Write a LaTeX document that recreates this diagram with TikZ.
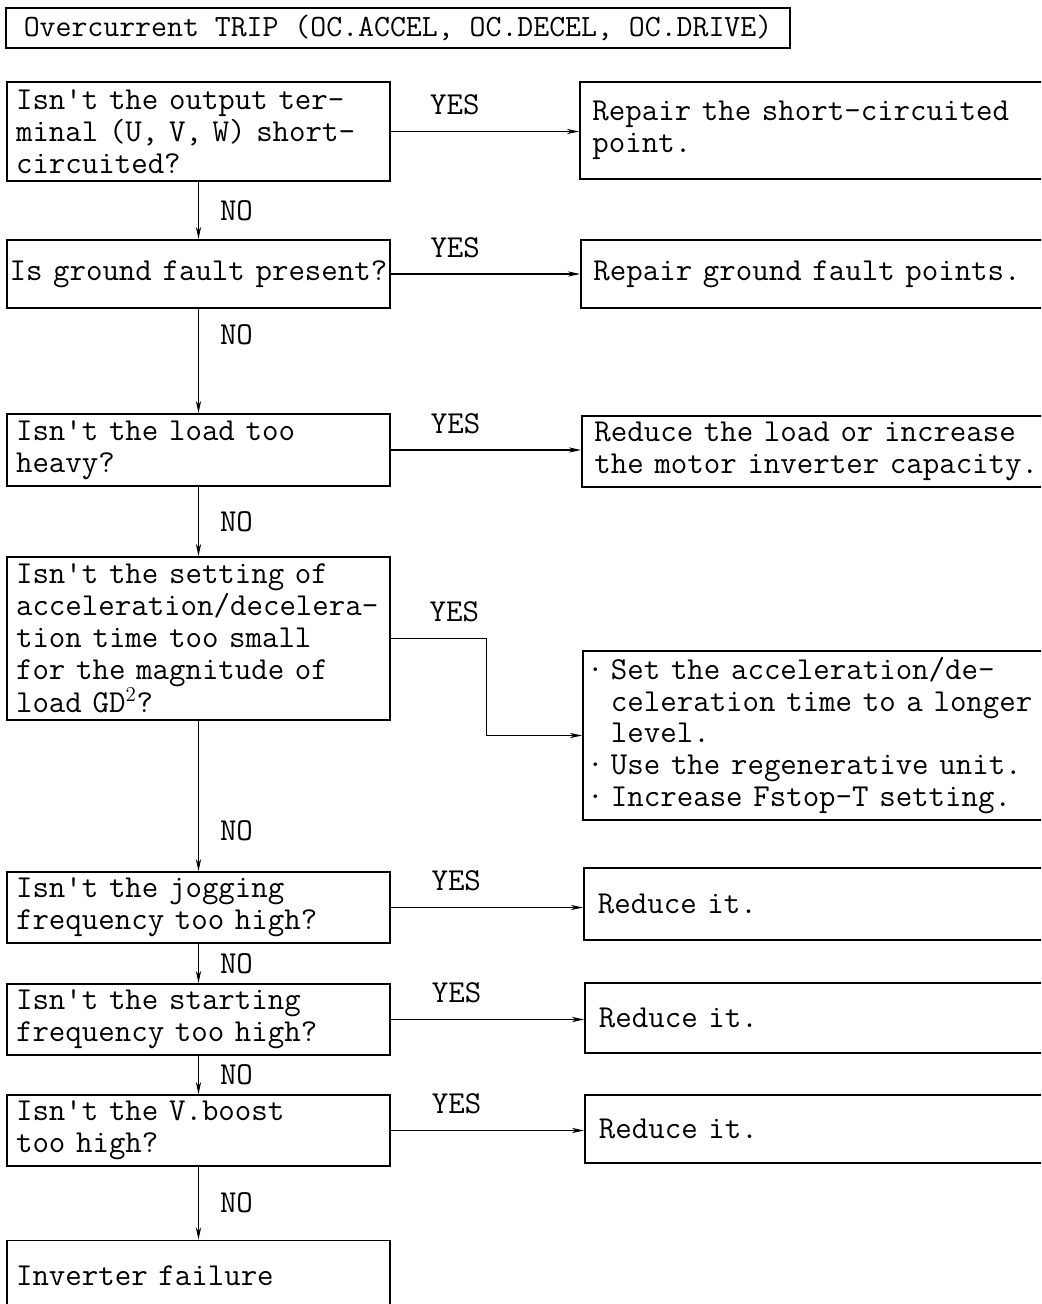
\documentclass[tikz,border=0pt]{standalone}
\usepackage{fontspec}
\usepackage{tikz}
\usetikzlibrary{arrows.meta, positioning, calc}

\newcommand{\itm}{\leavevmode\llap{·\hspace{0.15cm}}}

\begin{document}
\begin{tikzpicture}[x=0.02cm, y=-0.02cm, >={Stealth[length=7pt,width=3pt]},
    every node/.style={font=\ttfamily\fontsize{18.2}{18.14}\selectfont},
    qbox/.style={draw, line width=1.1pt, minimum width=7.66cm, text width=7.30cm, inner xsep=0.18cm, align=left},
    abox/.style={draw, line width=1.1pt, anchor=west, minimum width=12cm, text width=11.5cm, inner xsep=0.25cm, align=left},
    link/.style={->, line width=0.6pt},
    lbl/.style={inner sep=0pt}]
    \clip (0,0) rectangle (1041,1304);

    \node[draw, line width=1pt, minimum width=15.68cm, minimum height=0.8cm, inner xsep=0.2cm,
        font=\ttfamily\fontsize{17.6}{18.14}\selectfont] (title) at (398,28) {Overcurrent TRIP (OC.ACCEL, OC.DECEL, OC.DRIVE)};

    % questions
    \node[qbox, minimum height=1.98cm] (q1) at (198.5,131.5) {Isn't the output ter-\\minal (U, V, W) short-\\circuited?};
    \node[qbox, minimum height=1.36cm, text width=7.56cm, inner xsep=0.05cm] (q2) at (198.5,274) {\mbox{Is ground fault present?}};
    \node[qbox, minimum height=1.44cm] (q3) at (198.5,450) {Isn't the load too\\heavy?};
    \node[qbox, minimum height=3.26cm] (q4) at (198.5,638.5) {Isn't the setting of\\acceleration/decelera-\\tion time too small\\for the magnitude of\\load GD$^{2}$?};
    \node[qbox, minimum height=1.38cm] (q5) at (198.5,907.5) {Isn't the jogging\\frequency too high?};
    \node[qbox, minimum height=1.42cm] (q6) at (198.5,1019.5) {Isn't the starting\\frequency too high?};
    \node[qbox, minimum height=1.38cm] (q7) at (198.5,1130.5) {Isn't the V.boost\\too high?};
    \node[qbox, minimum height=1.42cm] (q8) at (198.5,1276) {Inverter failure};

    % actions
    \node[abox, minimum height=1.94cm] (a1) at (579,130.5) {Repair the short-circuited\\point.};
    \node[abox, minimum height=1.36cm] (a2) at (580,274) {Repair ground fault points.};
    \node[abox, minimum height=1.42cm] (a3) at (581,451.5) {Reduce the load or increase\\the motor inverter capacity.};
    \node[abox, minimum height=3.34cm, inner xsep=0.56cm] (a4) at (582,735.5) {\itm Set the acceleration/de-\\celeration time to a longer\\level.\\\itm Use the regenerative unit.\\\itm Increase Fstop-T setting.};
    \node[abox, minimum height=1.44cm, inner xsep=0.28cm] (a5) at (583,904) {Reduce it.};
    \node[abox, minimum height=1.4cm, inner xsep=0.28cm] (a6) at (584,1018) {Reduce it.};
    \node[abox, minimum height=1.36cm, inner xsep=0.28cm] (a7) at (584,1129) {Reduce it.};

    % YES
    \draw[link] (q1.east) -- node[lbl, above=0.32cm, pos=0.34] {YES} (q1.east -| a1.west);
    \draw[link] (q2.east) -- node[lbl, above=0.32cm, pos=0.34] {YES} (q2.east -| a2.west);
    \draw[link] (q3.east) -- node[lbl, above=0.32cm, pos=0.34] {YES} (q3.east -| a3.west);
    \draw[link] (q4.east) -- node[lbl, above=0.32cm, pos=0.66] {YES} ++(96,0) |- (a4.west);
    \draw[link] (q5.east) -- node[lbl, above=0.32cm, pos=0.34] {YES} (q5.east -| a5.west);
    \draw[link] (q6.east) -- node[lbl, above=0.32cm, pos=0.34] {YES} (q6.east -| a6.west);
    \draw[link] (q7.east) -- node[lbl, above=0.32cm, pos=0.34] {YES} (q7.east -| a7.west);

    % NO
    \draw[link] (q1.south) -- node[lbl, right=0.42cm] {NO} (q2.north);
    \draw[link] (q2.south) -- node[lbl, right=0.42cm, pos=0.25] {NO} (q3.north);
    \draw[link] (q3.south) -- node[lbl, right=0.42cm] {NO} (q4.north);
    \draw[link] (q4.south) -- node[lbl, right=0.42cm, pos=0.73] {NO} (q5.north);
    \draw[link] (q5.south) -- node[lbl, right=0.42cm] {NO} (q6.north);
    \draw[link] (q6.south) -- node[lbl, right=0.42cm] {NO} (q7.north);
    \draw[link] (q7.south) -- node[lbl, right=0.42cm] {NO} (q8.north);
\end{tikzpicture}
\end{document}
